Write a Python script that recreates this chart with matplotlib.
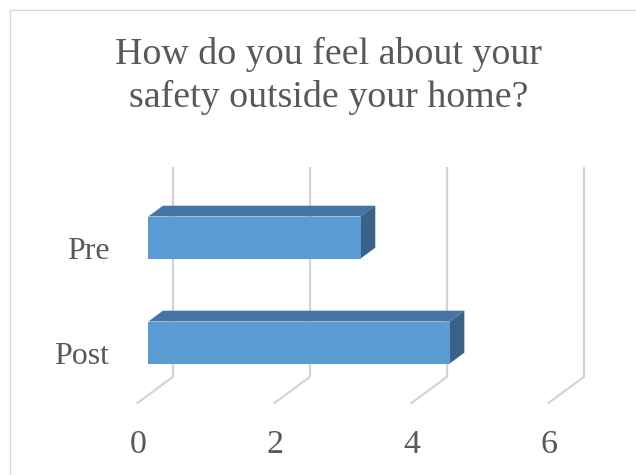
import matplotlib
matplotlib.use("Agg")
import matplotlib.pyplot as plt
from matplotlib.patches import Polygon, Rectangle

# ---- data ----
categories = ["Post", "Pre"]          # bottom to top
values = [4.4, 3.1]
xticks = [0, 2, 4, 6]
title_lines = ["How do you feel about your", "safety outside your home?"]

# ---- style ----
W, H = 636, 475
DPI = 100
front_col = "#5b9bd5"
top_col = "#4674a4"
side_col = "#3a6188"
grid_col = "#d4d4d4"
text_col = "#595959"
font = "Liberation Serif"

fig = plt.figure(figsize=(W / DPI, H / DPI), dpi=DPI)
fig.patch.set_facecolor("white")

# axes geometry (pixel scales)
sx = 68.5     # px per x unit
sy = 105.0    # px per category
x0_px = 148.3
ycat0_px = 342.5   # pixel (from top) of category 0 centre
xlim = (-0.4, 6.8)
ylim = (-0.9, 1.8)
left_px = x0_px + sx * xlim[0]
right_px = x0_px + sx * xlim[1]
bot_px = ycat0_px - sy * ylim[0]
top_px = ycat0_px - sy * ylim[1]
ax = fig.add_axes([left_px / W, (H - bot_px) / H,
                   (right_px - left_px) / W, (bot_px - top_px) / H])
ax.set_xlim(*xlim)
ax.set_ylim(*ylim)
ax.axis("off")

# depth vector (data units)
Dx, Dy = 36.6 / sx, 27.0 / sy
f_front = -0.317     # front plane relative to bar front face
f_back = 0.683       # back wall
f_bar = 0.40         # bar depth
bar_h = 0.40
ymin, ymax = -0.5, 1.5

# gridlines (back wall vertical + floor diagonals)
for xt in xticks:
    bx, by = xt + f_back * Dx, f_back * Dy
    fx, fy = xt + f_front * Dx, f_front * Dy
    ax.plot([bx, bx], [ymin + by, ymax + by], color=grid_col, lw=1.6,
            solid_capstyle="butt", zorder=1)
    ax.plot([fx, bx], [ymin + fy, ymin + by], color=grid_col, lw=1.6,
            solid_capstyle="butt", zorder=1)

# 3D bars
for i, v in enumerate(values):
    y_lo, y_hi = i - bar_h / 2, i + bar_h / 2
    ddx, ddy = f_bar * Dx, f_bar * Dy
    top = [(0, y_hi), (v, y_hi), (v + ddx, y_hi + ddy), (ddx, y_hi + ddy)]
    side = [(v, y_lo), (v + ddx, y_lo + ddy), (v + ddx, y_hi + ddy), (v, y_hi)]
    ax.add_patch(Polygon(top, closed=True, facecolor=top_col, edgecolor="none", zorder=3))
    ax.add_patch(Polygon(side, closed=True, facecolor=side_col, edgecolor="none", zorder=3))
    ax.barh(i, v, height=bar_h, left=0, color=front_col, edgecolor="none", zorder=4)

# tick labels (front plane)
for xt in xticks:
    ax.text(xt + f_front * Dx + 0.02, ymin + f_front * Dy - 0.47, str(xt),
            ha="center", va="baseline", fontsize=24.5, family=font, color=text_col)
for i, c in enumerate(categories):
    ax.text(-0.57, i - 0.205, c, ha="right", va="baseline",
            fontsize=23, family=font, color=text_col)

# title
for k, line in enumerate(title_lines):
    fig.text(328.5 / W, 1 - (64.3 + 42.4 * k) / H, line, ha="center", va="baseline",
             fontsize=27.3, family=font, color=text_col)

# chart border
fig.add_artist(Rectangle((10 / W, -0.05), 1.0, 1 - 9.5 / H + 0.05,
                         transform=fig.transFigure, fill=False,
                         edgecolor="#d9d9d9", lw=1.0))

fig.savefig("out.png", dpi=DPI)
